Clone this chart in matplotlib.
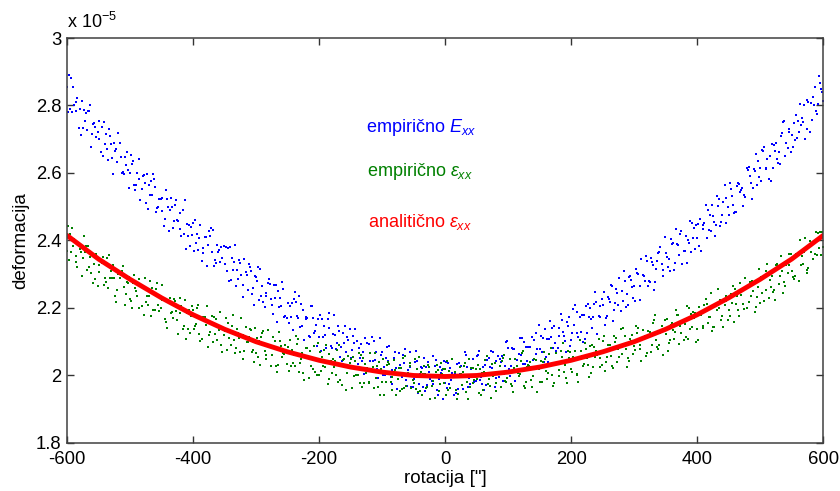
import numpy as np
import matplotlib
matplotlib.use("Agg")
import matplotlib.pyplot as plt

plt.rcParams['font.family'] = ['Liberation Sans', 'DejaVu Sans']
plt.rcParams['mathtext.fontset'] = 'custom'
plt.rcParams['mathtext.rm'] = 'Liberation Sans'
plt.rcParams['mathtext.it'] = 'Liberation Sans:italic'

# rotation grids (arc-seconds) for the empirical samples (three interleaved sample sets)
rot_a = np.linspace(-600, 600, 241)
rot_b = np.linspace(-598.5, 596.5, 240)
rot_c = np.linspace(-596.5, 598.5, 240)

# empirical E_xx (units of 1e-5)
emp_E_a = [
    2.855, 2.789, 2.855, 2.784, 2.789, 2.732, 2.779, 2.783, 2.716, 2.736, 2.700,
    2.736, 2.686, 2.639, 2.687, 2.690, 2.633, 2.648, 2.597, 2.661,
    2.599, 2.636, 2.563, 2.583, 2.592, 2.511, 2.565, 2.534, 2.559, 2.500,
    2.527, 2.463, 2.500, 2.525, 2.458, 2.462, 2.480, 2.418, 2.449, 2.384,
    2.453, 2.392, 2.407, 2.362, 2.409, 2.429, 2.365, 2.343, 2.367, 2.381,
    2.331, 2.377, 2.283, 2.335, 2.313, 2.334, 2.267, 2.298, 2.322, 2.260,
    2.291, 2.223, 2.265, 2.236, 2.286, 2.209, 2.229, 2.251, 2.206, 2.172,
    2.215, 2.172, 2.226, 2.177, 2.145, 2.194, 2.174, 2.115, 2.171, 2.149,
    2.113, 2.167, 2.120, 2.142, 2.080, 2.119, 2.148, 2.085, 2.095, 2.114,
    2.052, 2.095, 2.103, 2.051, 2.071, 2.019, 2.094, 2.042, 2.069, 2.039,
    2.069, 2.000, 2.042, 2.016, 2.070, 2.001, 2.023, 2.036, 1.970, 2.024,
    1.991, 2.043, 2.003, 1.967, 2.026, 2.010, 1.974, 2.046, 1.989, 2.016,
    1.979,
    2.038, 1.987, 2.005, 1.960, 2.029, 1.997, 2.025, 1.974, 2.021, 2.057,
    1.988, 2.025, 1.971, 2.053, 2.022, 2.043, 1.995, 2.057, 2.027, 2.080,
    2.029, 2.077, 2.015, 2.060, 2.098, 2.044, 2.083, 2.046, 2.125, 2.077,
    2.111, 2.055, 2.108, 2.140, 2.095, 2.116, 2.163, 2.102, 2.148, 2.105,
    2.151, 2.189, 2.129, 2.180, 2.126, 2.200, 2.173, 2.219, 2.174, 2.210,
    2.170, 2.228, 2.264, 2.216, 2.209, 2.250, 2.279, 2.210, 2.284, 2.266,
    2.305, 2.266, 2.296, 2.340, 2.276, 2.326, 2.316, 2.365, 2.295, 2.363,
    2.345, 2.389, 2.334, 2.388, 2.429, 2.369, 2.400, 2.366, 2.438, 2.406,
    2.465, 2.433, 2.407, 2.475, 2.472, 2.446, 2.524, 2.477, 2.525, 2.477,
    2.532, 2.483, 2.570, 2.549, 2.536, 2.608, 2.569, 2.612, 2.564, 2.616,
    2.664, 2.611, 2.651, 2.615, 2.689, 2.661, 2.718, 2.649, 2.720, 2.712,
    2.698, 2.755, 2.742, 2.800, 2.731, 2.807, 2.800, 2.776, 2.866, 2.814,
]
emp_E_b = [
    2.782, 2.881, 2.802, 2.823, 2.714, 2.787, 2.728, 2.801, 2.746, 2.708, 2.753,
    2.649, 2.715, 2.729, 2.645, 2.666, 2.718, 2.601, 2.648, 2.609,
    2.654, 2.564, 2.599, 2.519, 2.595, 2.597, 2.535, 2.598, 2.483, 2.522,
    2.487, 2.550, 2.428, 2.499, 2.505, 2.457, 2.413, 2.519, 2.412, 2.441,
    2.369, 2.420, 2.445, 2.379, 2.323, 2.412, 2.430, 2.334, 2.373, 2.349,
    2.380, 2.281, 2.348, 2.386, 2.286, 2.297, 2.346, 2.253, 2.309, 2.210,
    2.280, 2.316, 2.219, 2.243, 2.270, 2.183, 2.269, 2.203, 2.278, 2.177,
    2.156, 2.216, 2.247, 2.169, 2.212, 2.104, 2.169, 2.205, 2.127, 2.088,
    2.178, 2.115, 2.080, 2.185, 2.122, 2.078, 2.133, 2.042, 2.146, 2.106,
    2.076, 2.138, 2.034, 2.092, 2.004, 2.096, 2.042, 2.102, 2.018, 2.112,
    2.002, 2.051, 2.086, 1.976, 2.021, 2.068, 1.995, 2.079, 2.017, 1.967,
    2.040, 1.947, 2.026, 2.053, 1.971, 1.989, 2.058, 1.956, 2.025, 1.930,
    2.041, 1.976, 2.008, 1.948, 2.037, 1.997, 2.070, 1.967, 2.020, 1.980,
    2.060, 1.996, 1.958, 2.045, 2.025, 2.070, 1.992, 2.049, 1.985, 2.099,
    2.019, 2.082, 1.985, 2.063, 2.112, 2.033, 2.083, 2.025, 2.104, 2.078,
    2.118, 2.039, 2.107, 2.160, 2.081, 2.072, 2.142, 2.130, 2.069, 2.174,
    2.126, 2.209, 2.115, 2.178, 2.109, 2.212, 2.168, 2.213, 2.122, 2.206,
    2.246, 2.176, 2.218, 2.162, 2.255, 2.288, 2.222, 2.204, 2.291, 2.261,
    2.222, 2.300, 2.345, 2.281, 2.264, 2.348, 2.252, 2.338, 2.381, 2.313,
    2.352, 2.309, 2.394, 2.433, 2.358, 2.329, 2.413, 2.393, 2.453, 2.375,
    2.449, 2.368, 2.451, 2.491, 2.428, 2.456, 2.531, 2.443, 2.513, 2.451,
    2.571, 2.505, 2.484, 2.566, 2.555, 2.528, 2.619, 2.522, 2.607, 2.636,
    2.576, 2.676, 2.641, 2.577, 2.684, 2.642, 2.626, 2.752, 2.688, 2.729,
    2.676, 2.773, 2.720, 2.762, 2.701, 2.810, 2.757, 2.854, 2.803, 2.849,
]
emp_E_c = [
    2.890, 2.781, 2.811, 2.732, 2.813, 2.753, 2.783, 2.677, 2.749, 2.720,
    2.661, 2.752, 2.671, 2.709, 2.596, 2.671, 2.689, 2.602, 2.624, 2.555,
    2.626, 2.550, 2.642, 2.552, 2.569, 2.493, 2.575, 2.581, 2.496, 2.524,
    2.442, 2.522, 2.489, 2.437, 2.520, 2.435, 2.489, 2.374, 2.446, 2.417,
    2.461, 2.372, 2.338, 2.411, 2.387, 2.438, 2.323, 2.388, 2.337, 2.384,
    2.311, 2.382, 2.314, 2.265, 2.342, 2.234, 2.306, 2.330, 2.240, 2.294,
    2.320, 2.237, 2.203, 2.273, 2.228, 2.268, 2.159, 2.230, 2.256, 2.170,
    2.205, 2.135, 2.219, 2.236, 2.146, 2.166, 2.117, 2.206, 2.132, 2.167,
    2.072, 2.147, 2.168, 2.086, 2.178, 2.097, 2.054, 2.125, 2.071, 2.138,
    2.117, 2.020, 2.080, 2.044, 2.110, 2.019, 2.115, 2.045, 1.994, 2.060,
    2.025, 2.084, 1.996, 2.051, 1.959, 2.031, 2.060, 1.988, 2.069, 1.967,
    2.073, 1.976, 2.021, 1.955, 2.041, 1.985, 2.028, 1.942, 2.006, 2.044,
    1.964, 2.021, 1.941, 2.035, 2.005, 1.959, 2.061, 1.993, 2.049, 1.985,
    2.072, 1.976, 2.031, 2.001, 2.072, 1.965, 2.057, 2.039, 2.003, 2.101,
    1.998, 2.079, 2.046, 2.110, 2.034, 2.084, 2.016, 2.115, 2.063, 2.151,
    2.069, 2.139, 2.041, 2.114, 2.148, 2.081, 2.182, 2.118, 2.159, 2.088,
    2.196, 2.126, 2.172, 2.100, 2.207, 2.173, 2.140, 2.248, 2.175, 2.228,
    2.149, 2.233, 2.267, 2.195, 2.243, 2.192, 2.311, 2.241, 2.294, 2.230,
    2.317, 2.223, 2.297, 2.355, 2.280, 2.336, 2.277, 2.363, 2.329, 2.409,
    2.322, 2.405, 2.313, 2.391, 2.419, 2.370, 2.332, 2.457, 2.406, 2.447,
    2.385, 2.447, 2.505, 2.431, 2.505, 2.413, 2.501, 2.455, 2.564, 2.498,
    2.552, 2.481, 2.562, 2.544, 2.503, 2.614, 2.591, 2.556, 2.656, 2.587,
    2.669, 2.615, 2.582, 2.687, 2.664, 2.631, 2.710, 2.755, 2.675, 2.661,
    2.747, 2.703, 2.803, 2.750, 2.816, 2.720, 2.825, 2.785, 2.887, 2.839,
]

# empirical eps_xx (units of 1e-5)
emp_eps_a = [
    2.368, 2.418, 2.383, 2.337, 2.376, 2.349, 2.385, 2.320, 2.357, 2.287, 2.326,
    2.333, 2.290, 2.260, 2.311, 2.289, 2.253, 2.307, 2.262, 2.277,
    2.227, 2.273, 2.249, 2.200, 2.266, 2.217, 2.236, 2.259, 2.193, 2.209,
    2.224, 2.168, 2.224, 2.185, 2.228, 2.165, 2.186, 2.148, 2.185, 2.126,
    2.194, 2.153, 2.122, 2.174, 2.149, 2.119, 2.176, 2.122, 2.143, 2.091,
    2.133, 2.156, 2.089, 2.104, 2.137, 2.069, 2.120, 2.100, 2.137, 2.076,
    2.066, 2.101, 2.126, 2.049, 2.086, 2.060, 2.102, 2.032, 2.087, 2.064,
    2.085, 2.029, 2.061, 2.092, 2.036, 2.008, 2.059, 2.074, 2.020, 2.047,
    2.001, 2.056, 2.026, 2.065, 2.006, 2.042, 1.981, 2.027, 2.048, 2.008,
    2.048, 1.998, 2.024, 1.978, 2.053, 2.006, 1.981, 2.025, 1.992, 2.040,
    1.982, 2.009, 2.040, 1.957, 2.017, 1.989, 2.023, 1.964, 1.997, 2.038,
    1.978, 2.018, 1.953, 2.003, 1.964, 2.024, 1.984, 2.010, 1.955, 2.003,
    2.018,
    1.957, 1.996, 2.011, 1.946, 2.005, 2.029, 1.980, 1.967, 2.023, 1.990,
    2.018, 1.957, 2.007, 1.990, 2.034, 1.977, 2.003, 2.043, 1.985, 2.012,
    1.976, 2.022, 2.006, 2.043, 1.970, 2.025, 2.041, 1.997, 2.022, 1.982,
    2.039, 2.012, 2.064, 2.000, 2.036, 1.997, 2.054, 2.030, 2.073, 2.018,
    2.052, 2.004, 2.073, 2.035, 2.053, 2.087, 2.025, 2.074, 2.052, 2.103,
    2.041, 2.077, 2.029, 2.100, 2.078, 2.064, 2.116, 2.051, 2.103, 2.086,
    2.125, 2.078, 2.107, 2.068, 2.129, 2.156, 2.104, 2.090, 2.138, 2.123,
    2.095, 2.156, 2.129, 2.178, 2.125, 2.152, 2.109, 2.182, 2.169, 2.137,
    2.182, 2.142, 2.212, 2.172, 2.145, 2.210, 2.200, 2.175, 2.235, 2.193,
    2.214, 2.256, 2.195, 2.239, 2.196, 2.262, 2.237, 2.278, 2.234, 2.216,
    2.289, 2.254, 2.282, 2.247, 2.326, 2.270, 2.311, 2.265, 2.328, 2.311,
    2.296, 2.364, 2.327, 2.366, 2.314, 2.367, 2.397, 2.358, 2.425, 2.382,
]
emp_eps_b = [
    2.442, 2.365, 2.404, 2.321, 2.366, 2.414, 2.312, 2.352, 2.274, 2.361, 2.306,
    2.352, 2.276, 2.356, 2.288, 2.236, 2.302, 2.309, 2.208, 2.273,
    2.220, 2.299, 2.235, 2.267, 2.179, 2.235, 2.281, 2.193, 2.257, 2.191,
    2.267, 2.159, 2.214, 2.187, 2.221, 2.122, 2.205, 2.225, 2.137, 2.175,
    2.137, 2.200, 2.103, 2.171, 2.205, 2.129, 2.100, 2.166, 2.135, 2.069,
    2.170, 2.112, 2.146, 2.067, 2.125, 2.171, 2.074, 2.099, 2.135, 2.041,
    2.112, 2.030, 2.132, 2.061, 2.087, 2.115, 2.029, 2.130, 2.055, 2.091,
    2.013, 2.075, 2.027, 2.108, 2.050, 1.986, 2.081, 2.028, 2.087, 2.002,
    2.069, 2.028, 2.090, 1.991, 2.048, 2.001, 2.090, 1.972, 2.027, 2.059,
    1.963, 2.043, 2.001, 2.062, 1.977, 2.021, 2.066, 1.962, 2.027, 1.943,
    2.050, 1.982, 2.034, 1.995, 1.942, 2.022, 1.959, 2.057, 2.007, 1.964,
    2.048, 1.950, 2.010, 2.028, 1.966, 1.931, 1.998, 2.032, 1.974, 2.019,
    1.942, 2.013, 2.049, 1.956, 1.995, 1.972, 2.037, 1.929, 2.023, 1.986,
    2.031, 1.941, 2.010, 2.058, 1.969, 1.999, 1.955, 2.027, 2.051, 1.981,
    2.012, 1.968, 2.050, 1.997, 2.067, 1.962, 2.032, 1.988, 2.050, 1.952,
    2.043, 2.071, 1.990, 2.030, 1.968, 2.068, 2.016, 2.095, 1.994, 2.053,
    2.011, 2.074, 1.982, 2.057, 2.097, 2.032, 2.007, 2.083, 2.060, 2.024,
    2.118, 2.056, 2.089, 2.021, 2.111, 2.054, 2.140, 2.079, 2.042, 2.119,
    2.076, 2.140, 2.043, 2.116, 2.132, 2.070, 2.165, 2.085, 2.126, 2.060,
    2.166, 2.105, 2.135, 2.195, 2.093, 2.160, 2.115, 2.200, 2.144, 2.185,
    2.105, 2.180, 2.208, 2.155, 2.245, 2.143, 2.194, 2.225, 2.145, 2.222,
    2.176, 2.264, 2.211, 2.176, 2.249, 2.289, 2.218, 2.281, 2.187, 2.262,
    2.291, 2.222, 2.329, 2.261, 2.252, 2.331, 2.295, 2.243, 2.326, 2.359,
    2.293, 2.360, 2.280, 2.353, 2.406, 2.318, 2.388, 2.360, 2.421, 2.357,
]
emp_eps_c = [
    2.343, 2.438, 2.354, 2.392, 2.294, 2.365, 2.385, 2.305, 2.331, 2.265,
    2.338, 2.267, 2.349, 2.289, 2.326, 2.218, 2.290, 2.324, 2.242, 2.291,
    2.200, 2.258, 2.286, 2.207, 2.290, 2.210, 2.177, 2.241, 2.274, 2.199,
    2.224, 2.141, 2.230, 2.170, 2.190, 2.230, 2.138, 2.108, 2.194, 2.206,
    2.148, 2.209, 2.109, 2.174, 2.084, 2.153, 2.174, 2.106, 2.189, 2.120,
    2.076, 2.136, 2.178, 2.080, 2.111, 2.050, 2.143, 2.113, 2.071, 2.142,
    2.054, 2.113, 2.074, 2.136, 2.029, 2.084, 2.010, 2.103, 2.068, 2.033,
    2.104, 2.037, 2.116, 2.011, 2.066, 2.080, 1.992, 2.050, 2.009, 2.096,
    2.012, 2.076, 1.974, 2.043, 2.025, 2.076, 1.987, 2.047, 1.957, 2.037,
    2.054, 2.002, 2.067, 1.965, 2.033, 1.979, 2.016, 2.066, 1.965, 2.018,
    1.943, 2.031, 1.982, 2.045, 2.002, 1.954, 2.053, 1.969, 2.029, 1.986,
    1.960, 2.054, 1.942, 2.005, 2.030, 1.970, 1.934, 2.015, 2.038, 1.978,
    2.042, 1.962, 1.999, 1.930, 2.024, 2.009, 1.952, 2.048, 1.978, 2.020,
    1.949, 2.006, 2.045, 1.974, 1.934, 2.036, 2.004, 1.965, 2.061, 1.993,
    2.048, 1.952, 2.029, 2.003, 2.073, 1.980, 2.029, 1.967, 2.047, 2.019,
    1.982, 2.048, 2.008, 2.081, 1.979, 2.039, 2.073, 2.009, 1.978, 2.071,
    2.054, 2.001, 2.105, 2.029, 2.077, 1.995, 2.091, 2.055, 2.108, 2.032,
    2.014, 2.091, 2.059, 2.118, 2.041, 2.138, 2.089, 2.026, 2.108, 2.065,
    2.148, 2.091, 2.134, 2.059, 2.120, 2.090, 2.178, 2.079, 2.147, 2.165,
    2.073, 2.150, 2.107, 2.179, 2.147, 2.104, 2.206, 2.138, 2.187, 2.100,
    2.203, 2.147, 2.226, 2.172, 2.133, 2.211, 2.255, 2.164, 2.210, 2.164,
    2.241, 2.157, 2.235, 2.274, 2.212, 2.200, 2.276, 2.249, 2.202, 2.315,
    2.245, 2.309, 2.229, 2.296, 2.224, 2.323, 2.353, 2.276, 2.305, 2.359,
    2.286, 2.354, 2.400, 2.330, 2.305, 2.398, 2.345, 2.426, 2.377, 2.425,
]

# analytic eps_xx
rot_an = [-600, -550, -500, -450, -400, -350, -300, -250, -200, -150, -100, -50, 0,
          50, 100, 150, 200, 250, 300, 350, 400, 450, 500, 550, 600]
an_eps = [2.415, 2.345, 2.285, 2.230, 2.180, 2.137, 2.100, 2.070, 2.045, 2.025, 2.010, 2.000, 1.997,
          2.000, 2.010, 2.025, 2.045, 2.070, 2.100, 2.137, 2.180, 2.230, 2.285, 2.345, 2.415]

xticks = [-600, -400, -200, 0, 200, 400, 600]
yticks = [1.8, 2.0, 2.2, 2.4, 2.6, 2.8, 3.0]
ytick_labels = ['1.8', '2', '2.2', '2.4', '2.6', '2.8', '3']

BLUE = (0, 0, 1)
GREEN = (0, 0.5, 0)
RED = (1, 0, 0)

fig = plt.figure(figsize=(8.4, 4.91), dpi=100)
ax = fig.add_axes([0.0798, 0.0978, 0.9002, 0.8248])

mk = dict(linestyle='none', marker='s', ms=1.8, mew=0)
for xs, ys in ((rot_a, emp_E_a), (rot_b, emp_E_b), (rot_c, emp_E_c)):
    ax.plot(xs, ys, color=BLUE, **mk)
for xs, ys in ((rot_a, emp_eps_a), (rot_b, emp_eps_b), (rot_c, emp_eps_c)):
    ax.plot(xs, ys, color=GREEN, **mk)
ax.plot(rot_an, an_eps, color=RED, lw=3.5, solid_capstyle='round')

ax.set_xlim(-600, 600)
ax.set_ylim(1.8, 3.0)
ax.set_xticks(xticks)
ax.set_xticklabels([str(t) for t in xticks])
ax.set_yticks(yticks)
ax.set_yticklabels(ytick_labels)
ax.tick_params(direction='in', length=5, width=1, top=True, right=True,
               labelsize=13.3, colors='#333333', labelcolor='black')
ax.tick_params(axis='x', pad=6)
ax.tick_params(axis='y', pad=4)
for s in ax.spines.values():
    s.set_color('#404040')
    s.set_linewidth(1.1)

ax.set_xlabel('rotacija ["]', fontsize=13.5, labelpad=1)
ax.set_ylabel('deformacija', fontsize=13.5, labelpad=5)

ax.text(0.0, 1.015, r'x 10$^{-5}$', transform=ax.transAxes, fontsize=13,
        ha='left', va='bottom')

ax.text(-126, 2.721, r'empirično $E_{xx}$', color=BLUE, fontsize=13, ha='left', va='baseline')
ax.text(-124, 2.591, r'empirično $\varepsilon_{xx}$', color=GREEN, fontsize=13, ha='left', va='baseline')
ax.text(-122, 2.440, r'analitično $\varepsilon_{xx}$', color=RED, fontsize=13, ha='left', va='baseline')

fig.savefig('out.png', dpi=100)
